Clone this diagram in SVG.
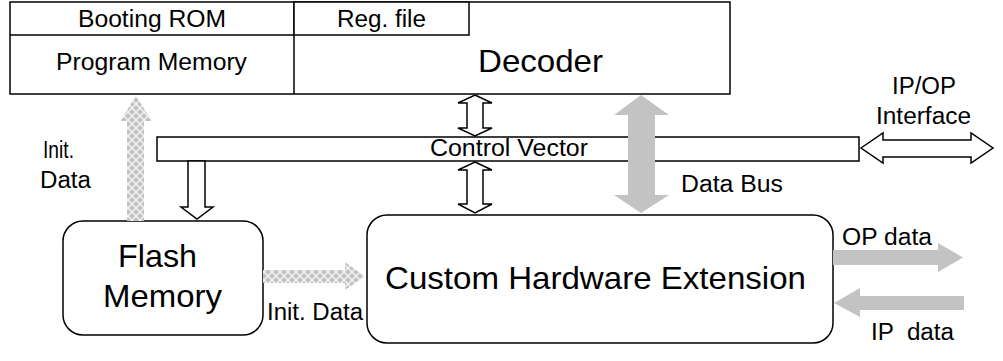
<svg xmlns="http://www.w3.org/2000/svg" width="1003" height="361" viewBox="0 0 1003 361">
<defs>
<pattern id="hatch" patternUnits="userSpaceOnUse" width="8" height="8">
<rect width="8" height="8" fill="#c2c2c2"/>
<path d="M0,0 L8,8 M8,0 L0,8" stroke="#f4f4f4" stroke-width="1.4"/>
</pattern>
<style>
.box{fill:#ffffff;stroke:#000000;stroke-width:1.5}
.hol{fill:#ffffff;stroke:#000000;stroke-width:1.5;stroke-linejoin:miter}
.gray{fill:#c3c3c3;stroke:none}
.hat{fill:url(#hatch);stroke:none}
text{font-family:"Liberation Sans",Arial,sans-serif;fill:#000000}
.s{font-size:23px}
.b{font-size:32px}
</style>
</defs>
<rect width="1003" height="361" fill="#ffffff"/>

<g id="cpu">
<rect class="box" x="10" y="2" width="720" height="92"/>
<line x1="10" y1="35" x2="294" y2="35" stroke="#000" stroke-width="1.5"/>
<line x1="294" y1="2" x2="294" y2="94" stroke="#000" stroke-width="1.5"/>
<rect class="box" x="294" y="2" width="175" height="33"/>
<text class="s" x="152" y="27" text-anchor="middle" textLength="148" lengthAdjust="spacingAndGlyphs">Booting ROM</text>
<text class="s" x="381.5" y="27" text-anchor="middle" textLength="89" lengthAdjust="spacingAndGlyphs">Reg. file</text>
<text class="s" x="151.5" y="70" text-anchor="middle" textLength="191" lengthAdjust="spacingAndGlyphs">Program Memory</text>
<text class="b" x="540.5" y="72" text-anchor="middle" textLength="125" lengthAdjust="spacingAndGlyphs">Decoder</text>
</g>

<g id="control-vector">
<rect class="box" x="157" y="137" width="702" height="24"/>
<text class="s" x="509" y="156" text-anchor="middle" textLength="158" lengthAdjust="spacingAndGlyphs">Control Vector</text>
</g>

<g id="flash">
<rect class="box" x="63" y="221" width="200" height="114" rx="20" ry="20"/>
<text class="b" x="157.5" y="267" text-anchor="middle" textLength="79" lengthAdjust="spacingAndGlyphs">Flash</text>
<text class="b" x="162.5" y="307" text-anchor="middle" textLength="119" lengthAdjust="spacingAndGlyphs">Memory</text>
</g>

<g id="custom">
<rect class="box" x="367" y="215" width="466" height="128" rx="20" ry="20"/>
<text class="b" x="595.5" y="289" text-anchor="middle" textLength="421" lengthAdjust="spacingAndGlyphs">Custom Hardware Extension</text>
</g>

<g id="connectors">
<polygon class="hol" points="475,95 492,103 483,103 483,128 492,128 475,136 458,128 467,128 467,103 458,103"/>
<polygon class="hol" points="475,162 492,170 483,170 483,204 492,204 475,213 458,204 467,204 467,170 458,170"/>
<polygon class="hol" points="188,161 205,161 205,207 213,207 197,219 181,207 188,207"/>
<polygon class="hol" points="861,148 883,133 883,140 971,140 971,133 993,148 971,163 971,157 883,157 883,163"/>
<polygon class="gray" points="641,95 669,115 655,115 655,195 669,195 641,213 614,195 628,195 628,115 614,115"/>
<polygon class="gray" points="833,250 938,250 938,243 963,257.5 938,272 938,265 833,265"/>
<polygon class="gray" points="964,296 964,310 860,310 860,317 834,303 860,288 860,296"/>
<polygon class="hat" points="127,221 127,121 120,121 136,96 152,121 144,121 144,221"/>
<polygon class="hat" points="263,270 345,270 345,262 365,276.5 345,290 345,283 263,283"/>
</g>

<g id="labels">
<text class="s" x="924" y="94" text-anchor="middle" textLength="64" lengthAdjust="spacingAndGlyphs">IP/OP</text>
<text class="s" x="923.5" y="124" text-anchor="middle" textLength="95" lengthAdjust="spacingAndGlyphs">Interface</text>
<text class="s" x="43" y="158" textLength="31" lengthAdjust="spacingAndGlyphs">Init.</text>
<text class="s" x="40" y="188" textLength="51" lengthAdjust="spacingAndGlyphs">Data</text>
<text class="s" x="681" y="192" textLength="102" lengthAdjust="spacingAndGlyphs">Data Bus</text>
<text class="s" x="842" y="245" textLength="90" lengthAdjust="spacingAndGlyphs">OP data</text>
<text class="s" x="871" y="340" textLength="83" lengthAdjust="spacingAndGlyphs" xml:space="preserve" style="white-space:pre">IP  data</text>
<text class="s" x="267" y="320" textLength="96" lengthAdjust="spacingAndGlyphs">Init. Data</text>
</g>
</svg>
